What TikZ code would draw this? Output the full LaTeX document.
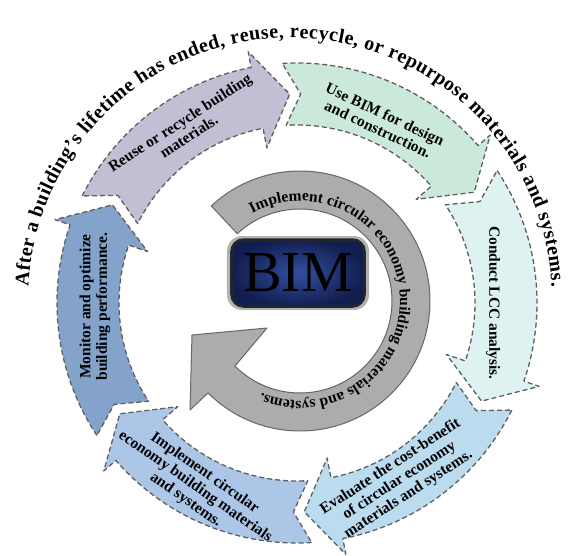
\documentclass[tikz,border=0pt]{standalone}
\usepackage{fontspec}
\setmainfont{Liberation Serif}
\usepackage{tikz}
\usetikzlibrary{decorations.text}
\definecolor{bimpurple}{RGB}{193,191,212}
\definecolor{bimgreen}{RGB}{203,233,219}
\definecolor{bimcyan}{RGB}{221,242,241}
\definecolor{bimsky}{RGB}{187,219,239}
\definecolor{bimblue}{RGB}{172,198,232}
\definecolor{bimdark}{RGB}{131,163,202}
\definecolor{bimgray}{RGB}{170,172,174}
\definecolor{bimnavy}{RGB}{18,30,80}
\definecolor{bimnavyl}{RGB}{50,80,160}
\definecolor{bimline}{RGB}{95,95,95}

\begin{document}
\begin{tikzpicture}[x=1pt,y=1pt,
  cyclearrow/.style={draw=bimline,line width=1.3pt,dash pattern=on 5pt off 3pt,line join=round},
  steplabel/.style={font=\bfseries\fontsize{15.5}{16.5}\selectfont,align=center,text=black},
  bimbox/.style={rounded corners=12pt,minimum width=133,minimum height=67,inner color=bimnavyl,outer color=bimnavy,shade,
    draw=black!85,line width=2.5pt,font=\fontsize{58}{58}\selectfont,text=black}]
  \useasboundingbox (-297,-252) rectangle (273,303);
  \foreach \ta/\col in {153.5/bimpurple,93.5/bimgreen,33.5/bimcyan,-26.5/bimsky,-86.5/bimblue,-146.5/bimdark}
    \filldraw[cyclearrow,fill=\col] (\ta:240) arc[start angle=\ta,delta angle=-52.5,radius=240]
      -- ({\ta-52.5}:256) -- ({\ta-61.5}:209) -- ({\ta-52.5}:158) -- ({\ta-52.5}:178)
      arc[start angle={\ta-52.5},delta angle=52.5,radius=178] -- ({\ta-4.5}:209) -- cycle;
  \node[steplabel,rotate=33] (reuse) at (123:207) {Reuse or recycle building\\materials.};
  \node[steplabel,rotate=-25] (design) at (65:200) {Use BIM for design\\and construction.};
  \node[steplabel,rotate=-90] (lcc) at (0:196) {Conduct LCC analysis.};
  \node[steplabel,rotate=33] (evaluate) at (-60:205) {Evaluate the cost-benefit\\of circular economy\\materials and systems.};
  \node[steplabel,rotate=-35] (implement) at (-119:210) {Implement circular\\economy building materials\\and systems.};
  \node[steplabel,rotate=90] (monitor) at (181:202) {Monitor and optimize\\building performance.};
  \begin{scope}[shift={(3,2)}]
    \filldraw[fill=bimgray,draw=black!60,line width=1pt,line join=round] (133:130) arc[start angle=133,end angle=-135,radius=130]
      -- (-110,-109) -- (-108,-34) -- (-33,-27) -- (-135:92) arc[start angle=-135,end angle=133,radius=92] -- cycle;
    \path[decorate,decoration={text along path,text align=center,
      text={|\bfseries\fontsize{15.5}{15.5}\selectfont|Implement circular economy building materials and systems.}}]
      (132:100) arc[start angle=132,end angle=-126,radius=100];
  \end{scope}
  \fill[black!30,rounded corners=15pt] (-70,-7) rectangle (72,67);
  \node[bimbox] (bim) at (1,30) {BIM};
  \path[shift={(-7,3)},decorate,decoration={text along path,text align=fit to path,
    text={|\bfseries\fontsize{20}{20}\selectfont|After a building's lifetime has ended, reuse, recycle, or repurpose materials and systems.}}]
    (177:262) arc[start angle=177,end angle=3,radius=262];
\end{tikzpicture}
\end{document}
